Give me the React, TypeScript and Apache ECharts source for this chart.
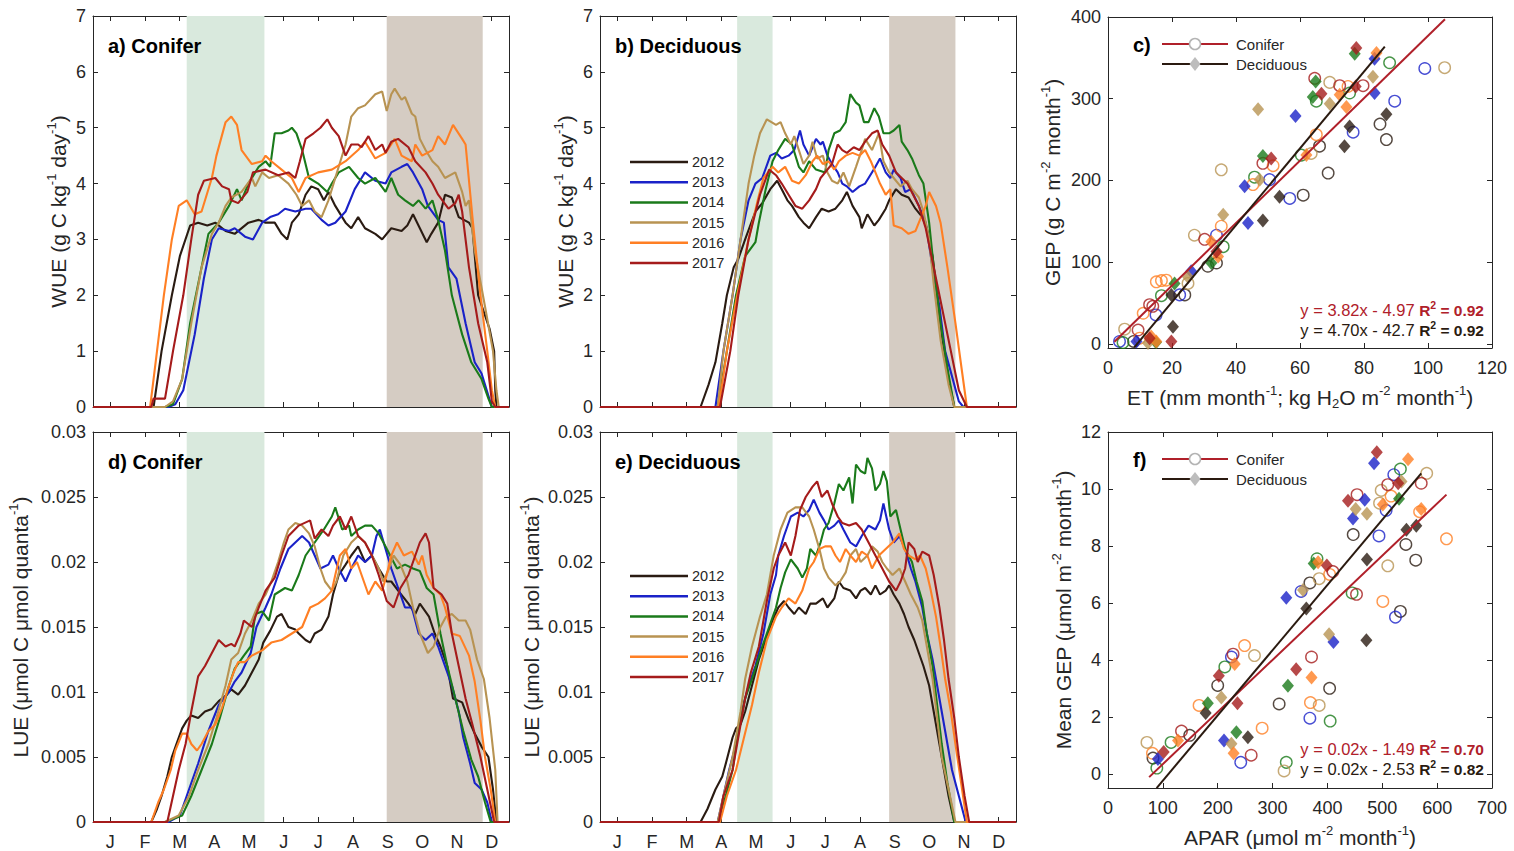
import React, { useEffect, useRef } from 'react';
import * as echarts from 'echarts';

// ---------- labels / categories ----------
const MONTHS = ['J', 'F', 'M', 'A', 'M', 'J', 'J', 'A', 'S', 'O', 'N', 'D'];
const YEARS = ['2012', '2013', '2014', '2015', '2016', '2017'];
const YEAR_COLORS = ['#2a1b12', '#1a22c8', '#1a7a1a', '#b89352', '#ff7f24', '#a51b1b'];

// ---------- a) Conifer WUE (day of year, g C kg-1 day-1) ----------
const wueC2012 = [[1,0],[54,0],[61,1.0],[70,2.0],[77,2.7],[86,3.25],[93,3.3],[101,3.25],[108,3.3],[117,3.15],[125,3.1],[137,3.3],[146,3.35],[152,3.3],[160,3.3],[166,3.1],[171,3.0],[175,3.3],[181,3.45],[187,3.8],[192,3.95],[198,3.9],[203,3.7],[207,3.85],[213,3.6],[222,3.3],[227,3.2],[233,3.4],[239,3.2],[248,3.1],[254,3.0],[262,3.2],[271,3.15],[276,3.25],[281,3.45],[287,3.2],[293,2.95],[297,3.1],[303,3.3],[309,3.8],[315,3.75],[321,3.4],[330,3.3],[333,3.2],[338,2.0],[348,1.4],[352,1.0],[353,0.3],[354,0],[365,0]];
const wueC2013 = [[1,0],[67,0],[73,0.05],[80,0.3],[90,1.3],[98,2.3],[105,3.0],[111,3.2],[120,3.15],[125,3.2],[134,3.05],[141,3.0],[149,3.3],[156,3.4],[163,3.45],[169,3.55],[178,3.5],[187,3.55],[192,3.55],[201,3.35],[207,3.25],[213,3.3],[222,3.5],[230,3.9],[236,4.1],[239,4.2],[248,4.05],[257,4.0],[262,4.2],[271,4.3],[276,4.35],[281,4.2],[289,3.9],[294,3.6],[303,3.35],[308,3.3],[312,2.5],[319,2.3],[327,1.5],[335,0.8],[341,0.6],[347,0.2],[350,0],[365,0]];
const wueC2014 = [[1,0],[64,0],[71,0.05],[79,0.5],[86,1.5],[96,2.5],[102,3.1],[111,3.3],[120,3.6],[127,3.9],[131,3.7],[137,4.0],[146,4.3],[152,4.4],[156,4.3],[160,4.9],[166,4.9],[172,4.95],[175,5.0],[179,4.9],[184,4.6],[190,4.1],[198,4.0],[206,3.85],[210,4.0],[216,4.2],[225,4.3],[233,4.1],[239,4.0],[248,4.1],[257,3.85],[262,4.1],[268,3.8],[274,3.7],[281,3.6],[286,3.7],[292,3.55],[298,3.7],[303,3.35],[309,2.8],[315,2.0],[324,1.3],[332,0.8],[341,0.5],[347,0.15],[350,0],[365,0]];
const wueC2015 = [[1,0],[64,0],[71,0.1],[79,0.5],[87,1.5],[96,2.5],[105,3.1],[111,3.3],[117,3.6],[122,3.75],[131,3.85],[140,4.1],[143,3.95],[149,4.2],[155,4.1],[163,4.15],[172,4.0],[179,3.8],[184,3.6],[190,3.7],[195,3.5],[201,3.4],[207,3.7],[216,4.3],[222,4.7],[227,5.2],[233,5.35],[239,5.4],[248,5.6],[254,5.65],[258,5.3],[262,5.6],[265,5.7],[271,5.5],[274,5.55],[280,5.25],[283,5.2],[287,4.8],[292,4.6],[298,4.4],[303,4.3],[309,4.1],[318,4.2],[324,3.85],[327,3.6],[330,3.7],[335,2.8],[344,1.8],[351,1.0],[354,0.3],[356,0],[365,0]];
const wueC2016 = [[1,0],[51,0],[57,1.0],[63,2.0],[70,3.0],[76,3.6],[83,3.7],[90,3.45],[96,3.5],[105,4.1],[109,4.5],[117,5.1],[122,5.2],[127,5.05],[131,4.6],[140,4.35],[149,4.4],[152,4.5],[157,4.4],[166,4.25],[175,4.1],[181,3.85],[187,4.1],[198,4.2],[210,4.25],[222,4.4],[233,4.6],[239,4.75],[248,4.45],[257,4.55],[265,4.8],[271,4.5],[280,4.4],[283,4.7],[289,4.5],[298,4.6],[303,4.85],[309,4.7],[316,5.05],[324,4.8],[327,4.7],[333,3.4],[340,2.0],[346,1.0],[350,0.3],[353,0],[365,0]];
const wueC2017 = [[1,0],[52,0],[54,0.15],[64,0.15],[71,1.0],[80,2.0],[87,3.0],[93,3.8],[98,4.05],[108,4.1],[114,3.95],[120,3.9],[122,3.7],[128,3.65],[136,3.85],[141,4.2],[152,4.25],[163,4.15],[172,4.2],[178,4.1],[182,4.4],[187,4.8],[194,4.9],[200,5.0],[206,5.15],[210,5.0],[216,4.85],[222,4.5],[227,4.7],[233,4.7],[236,4.65],[242,4.85],[248,4.6],[254,4.7],[257,4.55],[262,4.75],[268,4.8],[277,4.65],[283,4.4],[292,4.2],[298,4.0],[303,3.8],[312,3.55],[318,3.65],[321,3.8],[324,3.5],[330,2.5],[338,1.5],[346,0.8],[350,0.1],[353,0],[365,0]];

// ---------- b) Deciduous WUE ----------
const wueD2012 = [[1,0],[89,0],[96,0.4],[102,0.8],[108,1.5],[112,2.0],[118,2.5],[122,2.65],[128,3.0],[137,3.5],[143,3.65],[150,3.9],[156,4.05],[160,3.9],[165,3.7],[169,3.6],[175,3.4],[179,3.3],[184,3.2],[190,3.4],[195,3.55],[201,3.5],[207,3.55],[213,3.7],[217,3.85],[222,3.6],[228,3.4],[230,3.2],[235,3.45],[241,3.25],[245,3.35],[251,3.55],[254,3.7],[260,3.9],[265,3.8],[271,3.75],[277,3.55],[283,3.4],[287,3.2],[292,2.7],[296,2.0],[300,1.3],[306,0.5],[311,0],[365,0]];
const wueD2013 = [[1,0],[102,0],[109,1.0],[117,2.0],[124,3.0],[131,3.7],[137,4.0],[143,4.1],[150,4.5],[155,4.55],[160,4.45],[166,4.5],[171,4.6],[176,4.95],[179,4.7],[184,4.5],[190,4.8],[194,4.7],[196,4.75],[200,4.5],[204,4.35],[209,4.2],[213,4.0],[217,3.95],[222,3.85],[228,3.95],[233,4.0],[236,4.1],[242,4.3],[246,4.45],[251,4.2],[255,4.1],[258,4.25],[264,4.1],[268,3.85],[273,3.9],[280,3.6],[286,3.3],[292,2.5],[298,1.8],[303,1.0],[311,0.4],[315,0.1],[319,0],[365,0]];
const wueD2014 = [[1,0],[104,0],[112,1.0],[120,2.0],[128,2.7],[137,2.95],[140,3.3],[146,3.9],[152,4.4],[157,4.6],[163,4.8],[169,4.7],[175,4.3],[179,4.2],[184,4.4],[190,4.25],[198,4.2],[201,4.6],[206,4.9],[211,4.95],[216,5.1],[220,5.6],[225,5.45],[228,5.4],[232,5.1],[236,5.1],[241,5.35],[245,5.2],[249,4.9],[254,4.9],[258,4.95],[263,5.05],[265,4.75],[270,4.6],[274,4.45],[277,4.3],[280,4.15],[284,4.0],[289,3.3],[293,2.5],[299,1.5],[305,0.7],[311,0],[365,0]];
const wueD2015 = [[1,0],[104,0],[109,1.0],[117,2.0],[124,3.0],[131,4.0],[136,4.5],[141,4.9],[147,5.15],[155,5.05],[159,5.1],[163,4.9],[168,4.7],[171,4.85],[175,4.6],[179,4.35],[184,4.5],[187,4.75],[191,4.45],[196,4.5],[200,4.2],[204,4.05],[209,4.0],[214,4.2],[219,3.95],[225,4.3],[230,4.6],[233,4.8],[239,4.6],[245,4.9],[249,4.4],[254,4.2],[258,4.1],[264,3.95],[270,4.05],[274,3.9],[280,3.75],[284,3.5],[289,3.0],[293,2.2],[299,1.2],[306,0.4],[311,0],[365,0]];
const wueD2016 = [[1,0],[105,0],[112,1.0],[121,2.0],[131,3.0],[139,3.7],[144,4.1],[152,4.3],[157,4.2],[163,4.3],[169,4.05],[175,4.0],[181,4.15],[187,4.4],[191,4.5],[196,4.35],[201,4.4],[206,4.25],[210,4.4],[216,4.5],[222,4.55],[228,4.5],[233,4.6],[238,4.4],[242,4.2],[246,4.0],[251,3.8],[255,3.9],[258,3.25],[265,3.2],[271,3.1],[277,3.15],[280,3.3],[286,3.6],[289,3.85],[295,3.6],[299,3.3],[305,2.5],[312,1.5],[318,0.6],[322,0],[365,0]];
const wueD2017 = [[1,0],[106,0],[115,1.0],[122,2.0],[131,3.0],[141,3.8],[149,4.25],[155,4.15],[160,4.0],[166,3.8],[172,3.6],[178,3.55],[184,3.7],[190,3.9],[194,4.1],[200,4.25],[204,4.35],[209,4.7],[213,4.6],[217,4.55],[223,4.65],[228,4.6],[233,4.75],[239,4.9],[244,4.95],[248,4.7],[254,4.5],[260,4.2],[265,4.1],[270,4.0],[280,3.6],[286,3.2],[290,2.8],[298,2.0],[308,1.0],[315,0.3],[322,0],[365,0]];

// ---------- d) Conifer LUE (μmol C μmol quanta-1) ----------
const lueC2012 = [[1,0],[52,0],[57,0.001],[61,0.002],[66,0.0035],[70,0.005],[74,0.006],[79,0.0072],[83,0.0078],[87,0.0082],[93,0.008],[99,0.0085],[105,0.0087],[111,0.0093],[117,0.0097],[122,0.0102],[128,0.0098],[134,0.0105],[140,0.0115],[146,0.0125],[150,0.0138],[156,0.0147],[162,0.0158],[166,0.016],[172,0.015],[178,0.0148],[181,0.0145],[187,0.014],[191,0.0138],[195,0.0145],[201,0.0148],[207,0.0158],[211,0.0175],[216,0.019],[222,0.0198],[227,0.0205],[233,0.0212],[239,0.02],[245,0.0205],[251,0.0195],[258,0.0185],[262,0.0185],[268,0.0178],[277,0.0168],[283,0.016],[287,0.0168],[295,0.0158],[300,0.0145],[305,0.0135],[311,0.012],[316,0.0095],[324,0.0092],[330,0.0078],[335,0.0068],[341,0.0058],[347,0.005],[351,0.0025],[354,0],[365,0]];
const lueC2013 = [[1,0],[67,0],[77,0.0005],[83,0.002],[93,0.0045],[102,0.007],[111,0.009],[120,0.01],[125,0.0108],[131,0.0115],[139,0.013],[144,0.015],[152,0.0165],[157,0.0175],[165,0.0195],[172,0.021],[178,0.0215],[184,0.022],[190,0.0215],[195,0.0205],[200,0.0195],[207,0.0198],[211,0.0205],[216,0.0195],[222,0.0185],[227,0.0195],[233,0.0205],[239,0.02],[245,0.0205],[249,0.022],[252,0.0225],[257,0.021],[262,0.0195],[268,0.018],[274,0.0165],[280,0.0165],[286,0.0145],[292,0.014],[298,0.0145],[303,0.0135],[309,0.012],[315,0.0105],[321,0.0085],[325,0.0065],[331,0.0045],[335,0.003],[341,0.0025],[346,0.0015],[350,0],[365,0]];
const lueC2014 = [[1,0],[64,0],[79,0.0005],[87,0.002],[96,0.004],[105,0.006],[112,0.008],[120,0.0105],[125,0.0118],[133,0.0128],[139,0.0135],[143,0.016],[149,0.0162],[155,0.0155],[160,0.0175],[169,0.018],[175,0.0178],[181,0.019],[187,0.0205],[195,0.0215],[203,0.0225],[210,0.0235],[213,0.0242],[219,0.0225],[225,0.0228],[227,0.022],[233,0.0225],[239,0.0228],[245,0.0228],[251,0.0222],[257,0.0212],[261,0.0205],[267,0.0195],[274,0.0198],[281,0.0195],[287,0.0193],[293,0.018],[299,0.0175],[305,0.0145],[311,0.012],[318,0.0095],[325,0.007],[332,0.0048],[338,0.0035],[344,0.0015],[349,0],[365,0]];
const lueC2015 = [[1,0],[64,0],[76,0.0005],[85,0.002],[93,0.004],[102,0.006],[109,0.008],[117,0.0105],[122,0.0125],[128,0.013],[134,0.0145],[140,0.0155],[146,0.0168],[152,0.0175],[157,0.0185],[163,0.02],[168,0.0215],[172,0.0225],[178,0.023],[184,0.0228],[190,0.0222],[195,0.0212],[200,0.0195],[204,0.0185],[210,0.0178],[214,0.0185],[220,0.0205],[227,0.0215],[233,0.022],[239,0.0215],[245,0.0205],[251,0.0195],[255,0.0185],[260,0.0195],[264,0.0205],[270,0.0198],[276,0.0185],[281,0.0165],[287,0.0145],[294,0.013],[299,0.0135],[305,0.015],[310,0.0158],[315,0.016],[321,0.0155],[327,0.0155],[331,0.0148],[337,0.0125],[343,0.011],[348,0.008],[353,0.004],[355,0],[365,0]];
const lueC2016 = [[1,0],[52,0],[58,0.0015],[63,0.0025],[69,0.004],[73,0.0055],[79,0.0068],[83,0.0068],[87,0.006],[92,0.0055],[96,0.006],[102,0.007],[108,0.0075],[114,0.0088],[120,0.0105],[124,0.0115],[128,0.0123],[134,0.0123],[140,0.0128],[149,0.0132],[157,0.0138],[166,0.014],[175,0.0145],[184,0.015],[191,0.0165],[198,0.0168],[204,0.0172],[210,0.0178],[213,0.019],[217,0.0205],[222,0.021],[227,0.0195],[232,0.02],[236,0.019],[242,0.0175],[248,0.0185],[254,0.0178],[258,0.019],[262,0.0205],[267,0.0215],[273,0.0205],[280,0.0208],[286,0.0198],[289,0.0205],[293,0.019],[299,0.018],[305,0.0175],[309,0.0165],[315,0.0145],[322,0.0143],[330,0.0128],[335,0.0108],[340,0.0078],[344,0.005],[349,0.0025],[353,0],[365,0]];
const lueC2017 = [[1,0],[66,0],[71,0.002],[76,0.004],[82,0.006],[87,0.0085],[93,0.0112],[99,0.012],[105,0.013],[111,0.014],[117,0.0135],[122,0.0137],[125,0.0135],[130,0.0145],[133,0.0155],[140,0.015],[146,0.0165],[152,0.0178],[160,0.0188],[166,0.0205],[172,0.022],[181,0.0228],[191,0.0232],[195,0.0218],[201,0.0225],[207,0.022],[211,0.0228],[217,0.0235],[222,0.0225],[227,0.0235],[233,0.022],[239,0.0215],[245,0.0205],[251,0.019],[258,0.017],[264,0.0165],[270,0.018],[277,0.019],[283,0.0205],[287,0.0215],[292,0.0222],[295,0.0215],[299,0.018],[306,0.0175],[311,0.0168],[315,0.0145],[321,0.012],[327,0.0095],[333,0.0075],[340,0.005],[346,0.0025],[352,0],[365,0]];

// ---------- e) Deciduous LUE ----------
const lueD2012 = [[1,0],[89,0],[95,0.001],[102,0.0025],[108,0.0035],[112,0.0048],[117,0.0065],[120,0.0072],[124,0.0075],[128,0.0085],[134,0.0105],[140,0.0125],[146,0.014],[152,0.0155],[157,0.0165],[162,0.017],[166,0.0165],[171,0.016],[175,0.0165],[181,0.016],[185,0.0168],[190,0.0168],[196,0.0172],[200,0.0165],[206,0.0172],[210,0.0185],[214,0.018],[220,0.0178],[225,0.0172],[229,0.0178],[233,0.018],[238,0.0175],[242,0.0182],[246,0.0175],[251,0.0178],[254,0.0182],[258,0.0175],[263,0.0168],[267,0.016],[271,0.015],[276,0.014],[280,0.013],[284,0.012],[289,0.0105],[293,0.0085],[298,0.006],[302,0.004],[306,0.002],[311,0],[365,0]];
const lueD2013 = [[1,0],[104,0],[109,0.002],[114,0.004],[120,0.006],[125,0.0085],[131,0.0105],[137,0.012],[144,0.0145],[150,0.0175],[155,0.019],[157,0.0205],[162,0.022],[168,0.0235],[174,0.0238],[179,0.0235],[184,0.024],[188,0.0248],[193,0.0238],[197,0.0232],[201,0.0225],[206,0.0228],[210,0.0232],[214,0.0225],[220,0.0215],[225,0.0212],[230,0.022],[236,0.0228],[242,0.0225],[246,0.0232],[249,0.0245],[254,0.0225],[258,0.0215],[263,0.022],[268,0.021],[273,0.0195],[277,0.0185],[283,0.0165],[287,0.0145],[292,0.0125],[298,0.0095],[303,0.007],[309,0.004],[315,0.002],[321,0],[365,0]];
const lueD2014 = [[1,0],[104,0],[111,0.002],[117,0.004],[122,0.007],[128,0.0095],[134,0.011],[143,0.0135],[149,0.015],[155,0.0165],[159,0.018],[163,0.0192],[168,0.0202],[174,0.0195],[178,0.0188],[182,0.0195],[185,0.021],[190,0.0205],[194,0.0215],[197,0.0225],[201,0.023],[206,0.0245],[210,0.026],[214,0.0255],[219,0.0265],[222,0.0245],[225,0.0275],[229,0.027],[233,0.0268],[235,0.028],[239,0.0272],[242,0.0255],[246,0.026],[249,0.027],[252,0.0262],[255,0.0235],[260,0.024],[264,0.0225],[268,0.021],[274,0.02],[278,0.0185],[283,0.017],[287,0.0145],[292,0.012],[296,0.009],[300,0.006],[305,0.003],[311,0],[365,0]];
const lueD2015 = [[1,0],[104,0],[109,0.002],[117,0.005],[124,0.0085],[128,0.011],[134,0.0135],[141,0.0158],[147,0.0175],[153,0.0205],[159,0.0225],[165,0.0238],[172,0.0242],[178,0.0242],[184,0.0235],[188,0.0225],[193,0.021],[197,0.0195],[201,0.0188],[207,0.0182],[211,0.0185],[216,0.0192],[220,0.0205],[225,0.021],[229,0.02],[235,0.0205],[239,0.0212],[244,0.0208],[248,0.02],[252,0.0195],[257,0.019],[263,0.0195],[268,0.0185],[273,0.0175],[279,0.0165],[283,0.0155],[287,0.0135],[292,0.011],[296,0.008],[300,0.005],[306,0.0025],[312,0],[365,0]];
const lueD2016 = [[1,0],[106,0],[112,0.002],[120,0.004],[127,0.0065],[134,0.009],[140,0.0115],[147,0.014],[155,0.0158],[160,0.0165],[166,0.0172],[172,0.0168],[178,0.0178],[184,0.0195],[188,0.02],[193,0.021],[198,0.0212],[203,0.0212],[207,0.0205],[211,0.02],[216,0.021],[220,0.0205],[225,0.02],[230,0.0208],[235,0.0205],[239,0.0195],[245,0.0205],[251,0.021],[257,0.0215],[263,0.0222],[267,0.021],[271,0.0205],[277,0.0202],[281,0.0205],[286,0.0195],[290,0.018],[295,0.0158],[299,0.0135],[303,0.011],[308,0.0085],[312,0.006],[317,0.003],[322,0],[365,0]];
const lueD2017 = [[1,0],[105,0],[109,0.002],[117,0.004],[122,0.0065],[128,0.0095],[133,0.0115],[140,0.0135],[147,0.017],[153,0.0195],[157,0.0205],[163,0.0215],[168,0.0205],[172,0.022],[176,0.024],[181,0.025],[187,0.0258],[191,0.0262],[195,0.025],[200,0.0255],[204,0.0245],[209,0.0235],[213,0.023],[219,0.0228],[225,0.023],[230,0.0225],[236,0.0215],[242,0.0205],[248,0.0195],[254,0.0185],[260,0.0178],[264,0.0185],[268,0.0195],[271,0.0215],[276,0.021],[279,0.02],[283,0.0208],[289,0.0205],[293,0.019],[298,0.0165],[302,0.014],[306,0.011],[311,0.008],[315,0.005],[320,0.002],[324,0],[365,0]];

// ---------- c) monthly ET vs GEP ----------
const etGepC2012 = [[8,3],[24,60],[31.2,95],[33.9,99],[61,182],[66.1,242],[68.8,209],[85,269],[87,250]];
const etGepC2013 = [[3.6,3],[15,35.5],[22.4,60],[33.9,133],[50.5,201],[56.8,178],[76.6,259],[89.6,297],[99,337]];
const etGepC2014 = [[4.7,1.6],[16.7,59],[36,119],[45.8,204],[60.4,231],[65.1,297],[75.5,307],[88,344]];
const etGepC2015 = [[5.2,18],[25,74],[27,133],[35.4,213],[63.5,233],[69.3,320],[105.2,338]];
const etGepC2016 = [[9.9,7],[11,37.5],[15.1,76],[16.7,77.5],[18.2,78],[35.4,144],[45.3,195],[51.6,218],[65.1,256],[75,315]];
const etGepC2017 = [[9.4,17],[13,48],[14,46],[30.2,128],[48.4,221],[64.6,325],[72.4,316],[79.7,316]];
const etGepD2012 = [[19.8,60],[20.3,21],[48.4,151],[53.6,180],[73.9,242],[75.5,266],[87,281]];
const etGepD2013 = [[8.9,3],[26,89],[42.7,193],[43.75,148],[58.6,279],[83.3,349],[83.3,307]];
const etGepD2014 = [[15,2],[20.8,74],[32.3,99],[48.4,230],[64,302],[64.9,321],[77.1,355]];
const etGepD2015 = [[12.5,1],[25,82],[36,158],[46.9,287],[47.4,201],[69.3,294],[82.8,327]];
const etGepD2016 = [[13.5,9],[15.1,3],[32.3,125],[34.4,107],[62,231],[72.4,305],[74.5,290],[83.9,356]];
const etGepD2017 = [[13,7],[19.8,3],[33.9,113],[51,227],[66.7,306],[77.4,315],[77.6,362]];

// ---------- f) monthly APAR vs mean GEP ----------
const aparGepC2012 = [[82,0.55],[149,1.35],[200,3.1],[312,2.45],[368,6.7],[404,3.0],[447,8.4],[533,5.7],[543,8.05],[561,7.5]];
const aparGepC2013 = [[225,4.1],[242,0.4],[352,6.4],[368,1.95],[494,8.35],[507,9.25],[521,10.5],[524,5.5]];
const aparGepC2014 = [[89,0.2],[115,1.1],[213,3.75],[325,0.4],[381,7.55],[405,1.85],[445,6.35],[533,10.7]];
const aparGepC2015 = [[71,1.1],[267,4.15],[321,0.1],[385,2.4],[385,6.85],[495,9.5],[498,9.95],[510,7.3],[581,10.55]];
const aparGepC2016 = [[81,0.72],[166,2.4],[249,4.5],[281,1.6],[369,2.5],[404,7.0],[501,6.05],[516,9.75],[568,9.2],[617,8.25]];
const aparGepC2017 = [[134,1.5],[228,4.2],[261,0.65],[371,4.1],[410,7.1],[453,6.3],[454,9.8],[510,10.15],[571,10.2]];
const aparGepD2012 = [[178,2.13],[255,1.28],[361.5,5.8],[471,4.69],[472,7.52],[544,8.57],[562,8.71]];
const aparGepD2013 = [[91,0.52],[211.5,1.17],[325,6.18],[411,4.63],[446.6,8.96],[468,9.62],[485,10.9]];
const aparGepD2014 = [[182,2.48],[234,1.46],[328,3.09],[375,7.38],[530.5,9.66]];
const aparGepD2015 = [[206.6,2.68],[225,1.05],[355.5,6.45],[403,4.9],[451.5,9.3],[472,9.13],[535,10.26]];
const aparGepD2016 = [[127.6,1.17],[229,0.72],[231,3.85],[371,3.38],[383,7.43],[501,9.45],[547,11.04],[571,9.3]];
const aparGepD2017 = [[101.5,0.76],[202,3.44],[236,2.48],[343,3.67],[399,7.31],[437.5,9.59],[490,11.29],[529,10.2]];

// regression fits: [slope, intercept], x extent of drawn line
const FIT_ET_CONIFER = [3.82, -4.97];
const FIT_ET_CONIFER_X = [2, 105.3];
const FIT_ET_DECID = [4.70, -42.7];
const FIT_ET_DECID_X = [8.2, 86.5];
const FIT_APAR_CONIFER = [0.0183, -1.49];
const FIT_APAR_CONIFER_X = [75, 617];
const FIT_APAR_DECID = [0.0229, -2.53];
const FIT_APAR_DECID_X = [88.6, 571];

// tick values
const WUE_TICK_MAX = 7;
const LUE_TICK_MAX = 0.03;
const ET_TICKS_Y = [0, 100, 200, 300, 400];
const APAR_TICKS_Y = [0, 2, 4, 6, 8, 10, 12];

// shaded periods (day of year)
const BANDS_CONIFER = [[83, 151], [258, 342]];
const BANDS_DECID = [[121, 152], [254, 312]];

const FONT = "'Liberation Sans', Arial, Helvetica, sans-serif";
const AX = '#262626';
const GREEN_BAND = '#d9e9dd';
const BROWN_BAND = '#d5ccc3';
const RED_FIT = '#b0202a';
const DARK_FIT = '#2a1a10';

const nameRich = {
  n: { fontSize: 21, fontFamily: FONT, color: AX, lineHeight: 22 },
  s: { fontSize: 13, fontFamily: FONT, color: AX, lineHeight: 13, padding: [0, 0, 13, 0] },
  d: { fontSize: 13, fontFamily: FONT, color: AX, lineHeight: 13, padding: [13, 0, 0, 0] },
};

function buildOption() {
  const grid: any[] = [];
  const xAxis: any[] = [];
  const yAxis: any[] = [];
  const series: any[] = [];
  const graphic: any[] = [];
  const lineStyle = { color: AX, width: 1 };
  const tickLabel = { color: AX, fontSize: 18, fontFamily: FONT };

  function addTimePanel(cfg: any) {
    const gi = grid.length;
    grid.push({ left: cfg.left, top: cfg.top, width: 416, height: cfg.height });
    const xv = xAxis.length;
    xAxis.push({ gridIndex: gi, type: 'value', min: 1, max: 365, show: false, position: 'bottom' });
    const catBase = {
      gridIndex: gi, type: 'category', data: MONTHS, boundaryGap: true,
      axisLine: { show: true, onZero: false, lineStyle },
      axisTick: { show: true, inside: true, alignWithLabel: true, length: 5, interval: 0, lineStyle },
      splitLine: { show: false },
    };
    xAxis.push({ ...catBase, position: 'bottom', axisLabel: { show: cfg.monthLabels, interval: 0, margin: 11, ...tickLabel } });
    xAxis.push({ ...catBase, position: 'top', axisLabel: { show: false } });
    const yl = yAxis.length;
    const yBase = {
      gridIndex: gi, type: 'value', min: 0, max: cfg.yMax, interval: cfg.yInterval,
      axisLine: { show: true, onZero: false, lineStyle },
      axisTick: { show: true, inside: true, length: 5, lineStyle },
      splitLine: { show: false },
    };
    yAxis.push({
      ...yBase, position: 'left',
      axisLabel: { ...tickLabel, margin: 7, formatter: cfg.fmt },
      name: cfg.yName, nameLocation: 'middle', nameGap: cfg.nameGap,
      nameTextStyle: { rich: nameRich },
    });
    yAxis.push({ ...yBase, position: 'right', axisLabel: { show: false } });
    series.push({
      type: 'line', xAxisIndex: xv, yAxisIndex: yl, data: [], silent: true, z: 0,
      markArea: {
        silent: true,
        data: [
          [{ xAxis: cfg.bands[0][0], itemStyle: { color: GREEN_BAND } }, { xAxis: cfg.bands[0][1] }],
          [{ xAxis: cfg.bands[1][0], itemStyle: { color: BROWN_BAND } }, { xAxis: cfg.bands[1][1] }],
        ],
      },
    });
    cfg.data.forEach((d: any, i: number) => {
      series.push({
        type: 'line', name: YEARS[i], xAxisIndex: xv, yAxisIndex: yl, data: d,
        showSymbol: false, symbol: 'none', clip: false,
        lineStyle: { color: YEAR_COLORS[i], width: 2.1 }, itemStyle: { color: YEAR_COLORS[i] },
        z: 3 + i,
      });
    });
    graphic.push({
      type: 'text', x: cfg.left + 15, y: cfg.top + 30, z: 100,
      style: { text: cfg.title, font: `bold 20px ${FONT}`, fill: '#000', verticalAlign: 'middle' },
    });
    if (cfg.legendTop) {
      YEARS.forEach((yr, i) => {
        const yy = cfg.legendTop + i * 20.2;
        graphic.push({ type: 'line', z: 100, shape: { x1: 630, y1: yy, x2: 688, y2: yy }, style: { stroke: YEAR_COLORS[i], lineWidth: 2.5 } });
        graphic.push({ type: 'text', z: 100, x: 692, y: yy, style: { text: yr, font: `14.5px ${FONT}`, fill: AX, verticalAlign: 'middle' } });
      });
    }
  }

  function addScatterPanel(cfg: any) {
    const gi = grid.length;
    grid.push({ left: 1108, top: cfg.top, width: 384, height: cfg.height });
    const xb = xAxis.length;
    const xBase = {
      gridIndex: gi, type: 'value', min: 0, max: cfg.xMax, interval: cfg.xInterval,
      axisLine: { show: true, onZero: false, lineStyle },
      axisTick: { show: true, inside: true, length: 5, lineStyle },
      splitLine: { show: false },
    };
    xAxis.push({
      ...xBase, position: 'bottom',
      axisLabel: { ...tickLabel, margin: 11 },
      name: cfg.xName, nameLocation: 'middle', nameGap: cfg.xNameGap,
      nameTextStyle: { rich: nameRich },
    });
    xAxis.push({ ...xBase, position: 'top', axisLabel: { show: false } });
    const yl = yAxis.length;
    const yBase = {
      gridIndex: gi, type: 'value', min: cfg.yMin, max: cfg.yMax,
      axisLine: { show: true, onZero: false, lineStyle },
      axisTick: { show: true, inside: true, length: 5, lineStyle, customValues: cfg.yTicks },
      splitLine: { show: false },
    };
    yAxis.push({
      ...yBase, position: 'left',
      axisLabel: { ...tickLabel, margin: 7, customValues: cfg.yTicks },
      name: cfg.yName, nameLocation: 'middle', nameGap: cfg.yNameGap,
      nameTextStyle: { rich: nameRich },
    });
    yAxis.push({ ...yBase, position: 'right', axisLabel: { show: false } });

    cfg.conifer.forEach((d: any, i: number) => {
      series.push({
        type: 'scatter', name: 'Conifer ' + YEARS[i], xAxisIndex: xb, yAxisIndex: yl, data: d,
        symbol: 'circle', symbolSize: 11.5, z: 3,
        itemStyle: { color: 'rgba(255,255,255,0)', borderColor: YEAR_COLORS[i], borderWidth: 1.4 },
      });
    });
    cfg.decid.forEach((d: any, i: number) => {
      series.push({
        type: 'scatter', name: 'Deciduous ' + YEARS[i], xAxisIndex: xb, yAxisIndex: yl, data: d,
        symbol: 'diamond', symbolSize: [12, 14], z: 4,
        itemStyle: { color: YEAR_COLORS[i] },
      });
    });
    const fitLine = (fit: number[], xr: number[], color: string) => ({
      type: 'line', xAxisIndex: xb, yAxisIndex: yl, symbol: 'none', showSymbol: false, clip: false, z: 6,
      data: xr.map((x) => [x, fit[0] * x + fit[1]]),
      lineStyle: { color, width: 2 }, itemStyle: { color }, silent: true,
    });
    series.push(fitLine(cfg.fitC, cfg.fitCX, RED_FIT));
    series.push(fitLine(cfg.fitD, cfg.fitDX, DARK_FIT));

    // legend + label
    const ly = cfg.top + 27;
    graphic.push({ type: 'text', z: 100, x: 1133, y: ly + 1, style: { text: cfg.label, font: `bold 20px ${FONT}`, fill: '#000', verticalAlign: 'middle' } });
    graphic.push({ type: 'line', z: 100, shape: { x1: 1162, y1: ly, x2: 1228, y2: ly }, style: { stroke: RED_FIT, lineWidth: 2 } });
    graphic.push({ type: 'circle', z: 101, shape: { cx: 1195, cy: ly, r: 5.5 }, style: { fill: '#fff', stroke: '#b4b4b4', lineWidth: 1.5 } });
    graphic.push({ type: 'text', z: 100, x: 1236, y: ly, style: { text: 'Conifer', font: `15px ${FONT}`, fill: AX, verticalAlign: 'middle' } });
    const ly2 = ly + 20;
    graphic.push({ type: 'line', z: 100, shape: { x1: 1162, y1: ly2, x2: 1228, y2: ly2 }, style: { stroke: DARK_FIT, lineWidth: 2 } });
    graphic.push({ type: 'polygon', z: 101, shape: { points: [[1195, ly2 - 7], [1200.5, ly2], [1195, ly2 + 7], [1189.5, ly2]] }, style: { fill: '#bdbdbd' } });
    graphic.push({ type: 'text', z: 100, x: 1236, y: ly2, style: { text: 'Deciduous', font: `15px ${FONT}`, fill: AX, verticalAlign: 'middle' } });

    const eqRich = (color: string) => ({
      r: { fontSize: 16.5, fontFamily: FONT, fill: color, lineHeight: 17 },
      b: { fontSize: 15.5, fontFamily: FONT, fontWeight: 'bold', fill: color, lineHeight: 17 },
      s: { fontSize: 10.5, fontFamily: FONT, fontWeight: 'bold', fill: color, lineHeight: 10, padding: [0, 0, 11, 0] },
    });
    graphic.push({
      type: 'text', z: 100, x: 1484, y: cfg.eqY,
      style: { text: cfg.eqC, rich: eqRich(RED_FIT), align: 'right', verticalAlign: 'middle' },
    });
    graphic.push({
      type: 'text', z: 100, x: 1484, y: cfg.eqY + 20,
      style: { text: cfg.eqD, rich: eqRich(DARK_FIT), align: 'right', verticalAlign: 'middle' },
    });
  }

  const lueFmt = (v: number) => (v === 0 ? '0' : String(parseFloat(v.toFixed(3))));

  addTimePanel({
    left: 93, top: 16, height: 391, yMax: WUE_TICK_MAX, yInterval: 1, fmt: undefined,
    yName: '{n|WUE (g C kg}{s|-1}{n| day}{s|-1}{n|)}', nameGap: 24,
    data: [wueC2012, wueC2013, wueC2014, wueC2015, wueC2016, wueC2017],
    bands: BANDS_CONIFER, monthLabels: false, title: 'a) Conifer',
  });
  addTimePanel({
    left: 600, top: 16, height: 391, yMax: WUE_TICK_MAX, yInterval: 1, fmt: undefined,
    yName: '{n|WUE (g C kg}{s|-1}{n| day}{s|-1}{n|)}', nameGap: 24,
    data: [wueD2012, wueD2013, wueD2014, wueD2015, wueD2016, wueD2017],
    bands: BANDS_DECID, monthLabels: false, title: 'b) Deciduous', legendTop: 162,
  });
  addTimePanel({
    left: 93, top: 432, height: 390, yMax: LUE_TICK_MAX, yInterval: 0.005, fmt: lueFmt,
    yName: '{n|LUE (μmol C μmol quanta}{s|-1}{n|)}', nameGap: 62,
    data: [lueC2012, lueC2013, lueC2014, lueC2015, lueC2016, lueC2017],
    bands: BANDS_CONIFER, monthLabels: true, title: 'd) Conifer',
  });
  addTimePanel({
    left: 600, top: 432, height: 390, yMax: LUE_TICK_MAX, yInterval: 0.005, fmt: lueFmt,
    yName: '{n|LUE (μmol C μmol quanta}{s|-1}{n|)}', nameGap: 51,
    data: [lueD2012, lueD2013, lueD2014, lueD2015, lueD2016, lueD2017],
    bands: BANDS_DECID, monthLabels: true, title: 'e) Deciduous', legendTop: 576,
  });
  addScatterPanel({
    top: 17, height: 331, xMax: 120, xInterval: 20, yMin: -5, yMax: 400, yTicks: ET_TICKS_Y,
    xName: '{n|ET (mm month}{s|-1}{n|; kg H}{d|2}{n|O m}{s|-2}{n| month}{s|-1}{n|)}', xNameGap: 38,
    yName: '{n|GEP (g C m}{s|-2}{n| month}{s|-1}{n|)}', yNameGap: 45,
    conifer: [etGepC2012, etGepC2013, etGepC2014, etGepC2015, etGepC2016, etGepC2017],
    decid: [etGepD2012, etGepD2013, etGepD2014, etGepD2015, etGepD2016, etGepD2017],
    fitC: FIT_ET_CONIFER, fitCX: FIT_ET_CONIFER_X, fitD: FIT_ET_DECID, fitDX: FIT_ET_DECID_X,
    label: 'c)', eqY: 310,
    eqC: '{r|y = 3.82x - 4.97 }{b|R}{s|2}{b| = 0.92}',
    eqD: '{r|y = 4.70x - 42.7 }{b|R}{s|2}{b| = 0.92}',
  });
  addScatterPanel({
    top: 432, height: 357, xMax: 700, xInterval: 100, yMin: -0.5, yMax: 12, yTicks: APAR_TICKS_Y,
    xName: '{n|APAR (μmol m}{s|-2}{n| month}{s|-1}{n|)}', xNameGap: 38,
    yName: '{n|Mean GEP (μmol m}{s|-2}{n| month}{s|-1}{n|)}', yNameGap: 34,
    conifer: [aparGepC2012, aparGepC2013, aparGepC2014, aparGepC2015, aparGepC2016, aparGepC2017],
    decid: [aparGepD2012, aparGepD2013, aparGepD2014, aparGepD2015, aparGepD2016, aparGepD2017],
    fitC: FIT_APAR_CONIFER, fitCX: FIT_APAR_CONIFER_X, fitD: FIT_APAR_DECID, fitDX: FIT_APAR_DECID_X,
    label: 'f)', eqY: 749,
    eqC: '{r|y = 0.02x - 1.49 }{b|R}{s|2}{b| = 0.70}',
    eqD: '{r|y = 0.02x - 2.53 }{b|R}{s|2}{b| = 0.82}',
  });

  return {
    animation: false,
    backgroundColor: '#ffffff',
    textStyle: { fontFamily: FONT },
    grid, xAxis, yAxis, series, graphic,
  };
}

export default function App() {
  const ref = useRef<HTMLDivElement>(null);
  useEffect(() => {
    document.body.style.margin = '0';
    document.body.style.overflow = 'hidden';
    const chart = echarts.init(ref.current as HTMLDivElement, null, { renderer: 'svg' });
    chart.setOption(buildOption() as any);
    return () => chart.dispose();
  }, []);
  return <div ref={ref} style={{ width: 1514, height: 851 }} />;
}
